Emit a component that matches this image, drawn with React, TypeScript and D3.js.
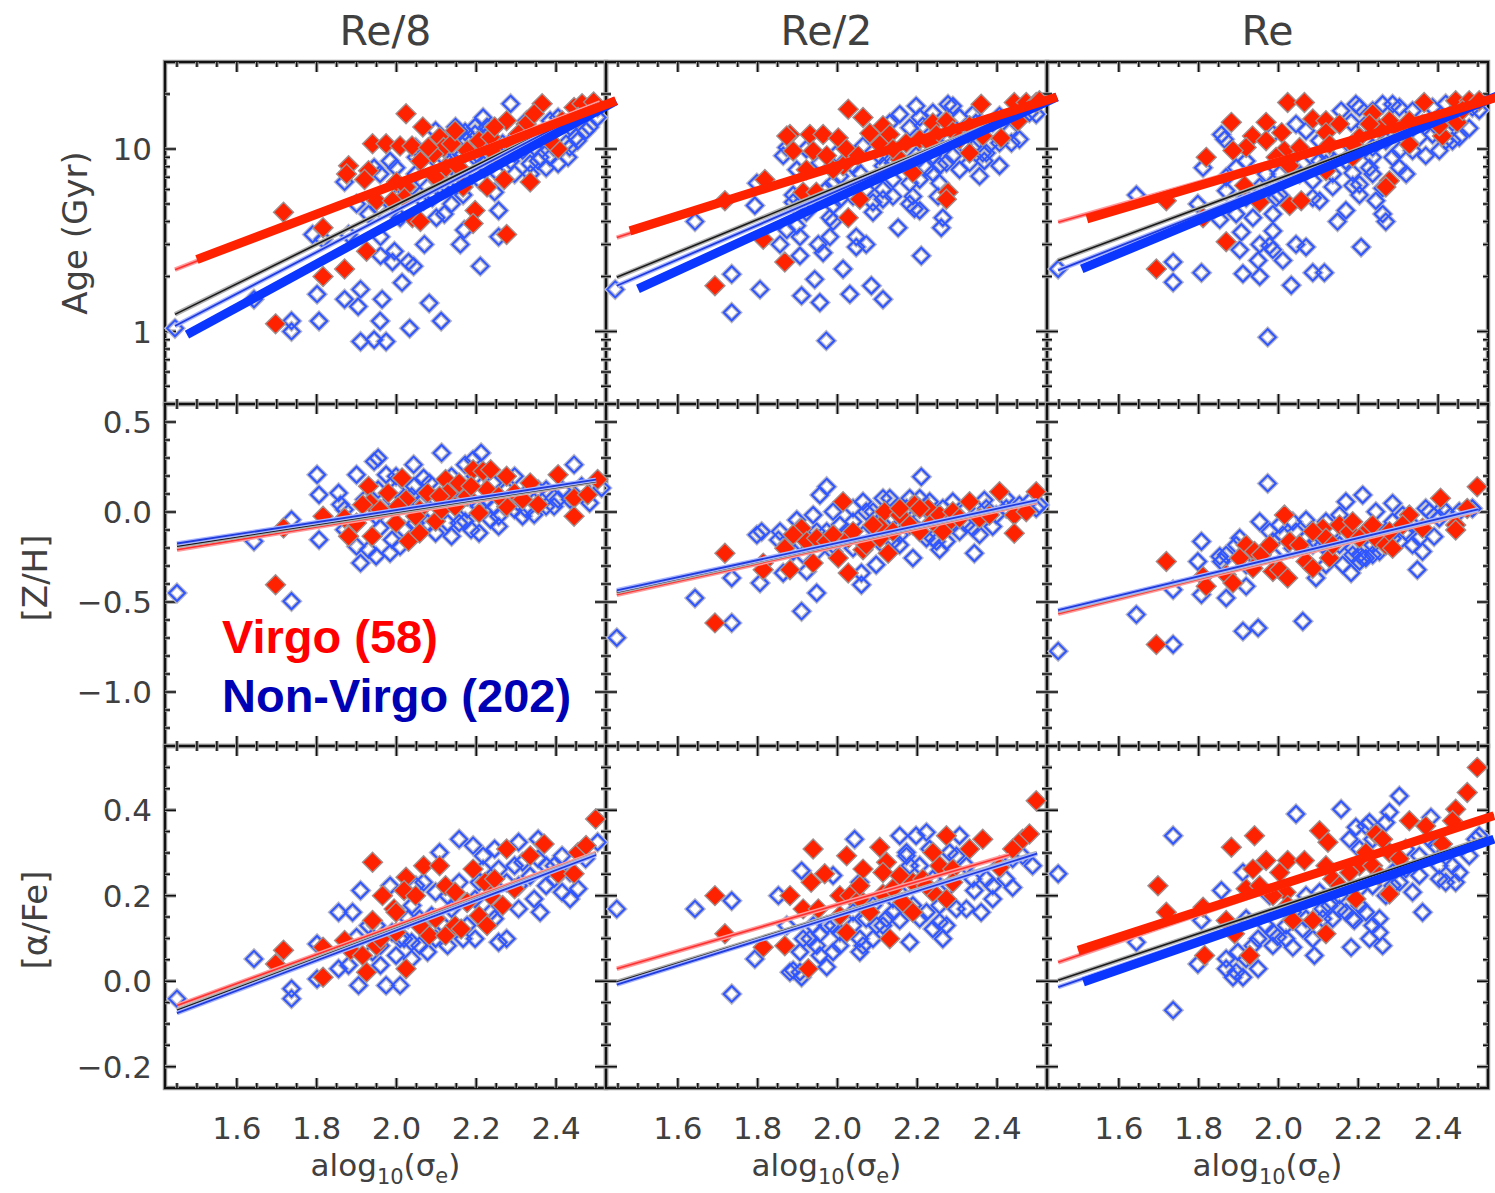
import React from 'react';
import * as d3 from 'd3';

type P = [number, number];
type Fit = [number, number, number, number];

// ---------- column / row labels ----------
const columnTitles = ['Re/8', 'Re/2', 'Re'];
const rowTitles = ['Age (Gyr)', '[Z/H]', '[α/Fe]'];
const xTickValues = [1.6, 1.8, 2.0, 2.2, 2.4];
const xMinorTicks = [1.45, 1.5, 1.55, 1.65, 1.7, 1.75, 1.85, 1.9, 1.95, 2.05, 2.1, 2.15, 2.25, 2.3, 2.35, 2.45, 2.5];
const ageMajor = [1, 10];
const ageMinor = [0.5, 0.6, 0.7, 0.8, 0.9, 2, 3, 4, 5, 6, 7, 8, 9, 20];
const zhMajor = [-1.0, -0.5, 0.0, 0.5];
const zhMinor = [-1.2, -1.1, -0.9, -0.8, -0.7, -0.6, -0.4, -0.3, -0.2, -0.1, 0.1, 0.2, 0.3, 0.4];
const afMajor = [-0.2, 0.0, 0.2, 0.4];
const afMinor = [-0.15, -0.1, -0.05, 0.05, 0.1, 0.15, 0.25, 0.3, 0.35, 0.45, 0.5];
const legendLabels = ['Virgo (58)', 'Non-Virgo (202)'];

// ---------- Age ----------
const virgoAgeRe8: P[] = [[2.024,15.6],[2.066,13.2],[1.94,10.7],[1.974,10.7],[2.009,10.4],[2.039,10.4],[2.108,11.6],[2.118,10.2],[2.093,9.4],[1.88,8.1],[1.875,7.3],[1.93,7.6],[1.92,6.8],[1.95,5.2],[2.0,6.6],[2.024,6.2],[2.02,5.4],[2.04,4.2],[2.06,4.0],[2.124,7.9],[2.138,10.7],[2.167,6.2],[2.197,4.6],[2.192,3.9],[2.207,11.1],[2.236,11.6],[2.276,14.3],[2.27,6.8],[2.276,3.4],[2.335,6.6],[2.365,17.7],[2.325,13.7],[2.405,10.0],[2.445,16.9],[2.465,17.7],[2.494,18.1],[2.455,14.9],[2.296,10.2],[2.246,9.4],[2.177,9.8],[1.717,4.5],[1.816,3.7],[1.925,2.75],[1.816,2.0],[1.87,2.2],[1.697,1.1],[2.098,7.0],[2.157,7.9],[2.06,8.6],[2.227,6.2],[2.306,12.1],[2.385,11.1],[2.415,14.3],[2.147,12.6],[1.99,5.2],[2.08,10.2],[2.246,13.2],[2.345,15.6]];
const nonVirgoAgeRe8: P[] = [[1.445,1.04],[1.737,1.14],[1.737,1.0],[1.806,1.14],[1.801,1.6],[1.87,1.5],[1.904,1.37],[1.91,1.7],[1.964,1.5],[1.959,1.14],[1.91,0.88],[1.944,0.9],[1.974,0.88],[2.033,1.04],[2.082,1.43],[2.112,1.14],[2.014,1.85],[2.043,2.28],[1.99,2.4],[1.995,2.75],[1.96,2.6],[2.07,3.0],[2.1,4.2],[2.12,4.4],[2.16,3.0],[2.21,2.28],[2.256,3.3],[2.256,4.6],[2.246,5.8],[2.17,3.6],[2.21,6.7],[2.186,8.3],[2.216,8.3],[2.256,9.4],[2.286,17.7],[2.276,9.8],[2.335,8.3],[2.355,8.6],[2.385,9.0],[2.395,10.2],[2.434,10.2],[2.45,11.6],[2.43,9.0],[2.504,14.9],[2.385,14.3],[2.217,14.9],[2.197,13.2],[2.157,12.6],[2.128,11.1],[2.138,8.6],[2.078,7.9],[2.048,7.3],[1.984,8.6],[1.944,7.9],[1.87,6.6],[1.9,5.0],[1.955,4.8],[2.0,5.4],[1.96,3.3],[1.79,3.4],[1.816,3.2],[2.09,5.4],[2.11,6.2],[2.167,5.6],[2.03,2.4],[1.643,1.5],[2.29,11.1],[2.325,11.1],[2.365,11.1],[2.475,12.6],[2.504,16.9],[2.048,10.2],[2.098,12.6],[2.177,11.1],
  [2.148,13.2],[2.172,12.4],[2.197,12.1],[2.222,11.6],[2.237,10.2],[2.266,10.7],[2.296,9.4],[2.316,9.8],[2.346,10.2],[2.36,9.0],[2.375,7.9],[2.405,8.3],[2.425,10.7],[2.454,11.1],[2.484,13.2],[2.435,13.2],[2.405,14.9],[2.326,14.3],[2.227,13.2],[2.167,9.4],[2.197,9.0],[2.227,7.9],[2.256,7.3],[2.296,7.3],[2.177,6.7],[2.128,6.2],[2.078,6.2],[2.039,6.2],[1.999,7.9],[1.959,7.3],[2.049,9.0],[2.118,9.0],[2.157,7.3],[2.286,8.6],[2.336,7.3],[2.068,5.2],[2.138,5.0],[1.93,4.4],[2.009,4.2],[1.88,3.4]];
const virgoAgeRe2: P[] = [[2.027,16.5],[2.064,14.9],[2.36,17.6],[2.443,18],[2.473,18],[2.498,18],[2.452,14.2],[1.881,12.0],[1.931,12.0],[1.964,12.0],[2.002,11.5],[1.889,9.75],[1.939,9.75],[2.022,10.0],[2.081,12.2],[2.114,13.4],[2.131,12.0],[2.106,10.6],[2.239,13.9],[2.273,14.2],[2.248,12.0],[2.289,12.5],[2.331,13.4],[2.331,9.5],[2.41,11.5],[2.206,11.3],[2.189,7.4],[2.156,8.8],[2.014,8.1],[1.989,7.7],[1.922,7.7],[1.818,6.8],[1.914,5.8],[1.947,5.8],[1.718,5.2],[2.056,5.3],[2.027,4.2],[2.277,5.8],[2.273,5.3],[1.814,3.2],[1.868,2.4],[1.693,1.78],[2.139,10.0],[2.231,10.8],[2.506,18.4],[2.172,10.8],[1.873,11.8],[2.364,11.8],[1.973,9.2],[2.052,9.2],[2.306,11.3]];
const nonVirgoAgeRe2: P[] = [[1.443,1.7],[1.735,2.06],[1.735,1.27],[1.806,1.7],[1.91,1.57],[1.956,1.44],[1.943,1.93],[2.014,2.2],[2.031,1.6],[2.085,1.78],[2.114,1.5],[1.972,0.89],[2.21,2.6],[2.152,3.7],[2.26,3.7],[2.264,4.2],[2.181,5.0],[2.193,4.7],[2.189,5.5],[2.252,5.5],[1.643,4.0],[1.793,4.9],[1.856,3.0],[1.906,3.3],[1.906,2.6],[1.952,3.0],[1.964,2.7],[1.981,3.3],[1.981,4.2],[2.047,3.3],[2.047,2.9],[2.072,3.0],[1.898,3.8],[1.889,5.1],[1.989,4.9],[2.089,5.1],[2.114,5.3],[2.139,6.8],[2.056,7.4],[2.114,8.1],[2.206,6.8],[2.222,7.9],[2.256,8.1],[2.273,8.4],[2.368,8.6],[2.373,9.5],[2.436,10.8],[2.431,12.5],[2.498,15.5],[2.156,15.5],[2.197,17.2],[2.277,17.6],[2.289,17.2],[2.206,14.9],[2.214,13.4],[2.181,13.1],[2.381,10.6],[2.364,9.5],[2.314,10.6],[2.256,10.2],[1.997,9.4],[1.873,10.2],[1.864,9.2],[1.898,7.7],[1.798,6.5],[1.889,5.6],[2.006,7.1],[2.139,8.4],[2.239,9.2],[2.289,9.2],[2.347,13.9],[2.389,13.9],[2.131,13.9],[2.064,10.4],[1.972,6.0],[2.006,5.3],[2.206,4.6],
  [2.239,15.8],[2.306,14.9],[2.339,15.5],[2.406,15.2],[2.456,14.6],[2.481,15.8],[2.331,11.8],[2.356,11.3],[2.406,10.8],[2.456,11.3],[2.281,11.3],[2.223,10.0],[2.197,9.2],[2.181,8.1],[2.239,7.4],[2.306,7.7],[2.331,8.4],[2.406,8.1],[2.131,10.4],[2.106,9.2],[2.039,8.1],[1.989,6.5],[1.956,8.4],[1.922,10.0],[2.072,6.0],[2.114,6.0],[2.139,5.5],[2.039,5.5],[2.089,4.5],[1.989,4.0],[1.922,4.5],[1.873,3.6],[2.181,6.5],[2.256,6.5],[2.356,7.1]];
const virgoAgeRe: P[] = [[2.023,18],[2.065,18],[2.365,18],[2.444,18.4],[2.478,18.4],[2.503,18.4],[1.882,14.0],[1.969,14.0],[1.935,11.8],[2.008,12.3],[1.919,10.2],[1.886,9.8],[2.086,14.6],[2.119,14.3],[2.119,12.3],[2.128,10.6],[2.015,9.8],[2.028,8.1],[1.819,9.0],[2.236,15.6],[2.278,14.3],[2.253,12.9],[2.328,14.3],[2.328,10.6],[2.411,11.8],[2.448,14.0],[2.203,11.6],[2.186,9.0],[2.119,7.6],[2.278,6.7],[2.269,6.2],[1.915,6.3],[1.953,5.1],[2.028,4.9],[2.057,5.2],[1.719,5.2],[1.811,4.2],[1.869,3.1],[1.694,2.2],[2.153,13.7],[2.228,13.7],[2.303,12.6],[2.186,10.6],[2.053,10.2],[1.994,9.0],[2.461,16.3],[1.969,11.1],[2.403,13.4]];
const nonVirgoAgeRe: P[] = [[1.448,2.2],[1.644,5.6],[1.736,2.4],[1.736,1.86],[1.807,2.1],[1.798,5.0],[1.853,4.1],[1.907,3.5],[1.903,2.8],[1.911,2.07],[1.953,2.0],[1.949,2.45],[1.953,3.0],[1.978,2.95],[1.986,3.55],[1.986,4.4],[2.011,2.45],[2.032,1.79],[2.044,3.0],[2.069,2.9],[2.086,2.1],[2.115,2.1],[1.973,0.93],[2.148,4.0],[2.169,4.6],[2.207,2.9],[2.261,4.4],[2.269,4.0],[2.203,5.6],[2.186,6.3],[2.186,7.4],[2.261,6.1],[2.369,9.2],[2.436,11.1],[2.503,16.3],[2.261,17.6],[2.286,17.6],[2.194,17.6],[2.157,16.2],[2.182,14.0],[2.215,13.4],[2.303,9.8],[2.353,11.6],[2.386,12.0],[2.419,11.1],[2.086,6.7],[2.119,8.3],[2.061,8.3],[1.994,5.4],[1.936,4.2],[1.894,4.4],[1.869,5.9],[1.865,11.3],[1.857,12.0],[1.811,7.9],[1.894,7.9],[1.969,7.3],[2.044,13.7],[2.069,12.6],[2.228,7.9],[2.236,7.3],[2.303,7.9],[2.436,14.0],[2.32,7.3],[2.136,6.2],[2.103,5.2],[2.003,5.6],[2.103,11.1],
  [2.203,16.9],[2.236,16.2],[2.303,16.9],[2.336,16.2],[2.386,16.9],[2.419,17.7],[2.486,16.9],[2.361,13.7],[2.394,13.4],[2.319,12.1],[2.269,11.1],[2.236,10.2],[2.203,9.8],[2.153,9.8],[2.119,9.4],[2.169,8.6],[2.236,9.0],[2.286,9.0],[2.336,9.8],[2.403,9.8],[2.453,11.6],[2.478,13.0],[2.103,8.6],[2.053,7.3],[2.003,7.3],[1.953,6.2],[1.919,5.4],[2.086,5.4],[2.136,7.3],[2.203,6.4],[2.244,5.2],[1.986,12.1],[1.919,8.6],[1.869,7.0],[1.986,2.8]];

// ---------- [Z/H] ----------
const virgoZhRe8: P[] = [[1.697,-0.404],[1.717,-0.089],[1.816,-0.024],[1.87,-0.033],[1.88,-0.135],[1.93,0.143],[1.934,0.05],[1.939,-0.135],[1.915,0.04],[2.014,0.189],[2.024,0.069],[2.03,-0.163],[2.058,-0.117],[2.004,0.031],[1.999,-0.061],[2.098,-0.052],[2.113,0.013],[2.123,0.18],[2.128,0.106],[2.157,0.161],[2.192,0.235],[2.217,0.226],[2.236,0.235],[2.207,-0.006],[2.227,0.124],[2.276,0.198],[2.276,0.031],[2.296,0.106],[2.335,0.161],[2.355,0.041],[2.405,0.207],[2.445,0.078],[2.445,-0.024],[2.479,0.096],[2.504,0.18],[2.078,0.106],[2.108,0.087],[2.058,0.013],[2.177,0.087],[2.256,0.087],[1.959,0.013],[1.9,-0.061],[2.048,-0.024],[2.147,0.031],[2.316,0.069],[1.979,0.106],[2.187,0.143]];
const nonVirgoZhRe8: P[] = [[1.45,-0.45],[1.737,-0.496],[1.643,-0.163],[1.737,-0.043],[1.801,0.207],[1.806,0.096],[1.806,-0.154],[1.855,0.106],[1.86,0.041],[1.9,0.207],[1.91,-0.283],[1.944,0.281],[1.954,0.3],[1.949,-0.246],[1.984,-0.228],[1.974,0.207],[2.043,0.263],[2.068,0.189],[2.113,0.328],[2.172,0.263],[2.212,0.328],[2.192,0.291],[2.138,-0.135],[2.187,-0.098],[2.256,-0.08],[2.246,0.031],[2.306,0.05],[2.345,-0.015],[2.405,0.069],[2.445,0.263],[2.514,0.133],[2.375,0.124],[1.999,0.124],[2.019,0.05],[1.959,-0.089],[1.989,-0.154],[2.078,-0.061],[2.098,0.069],[2.147,0.124],[2.227,0.069],[2.236,-0.043],[1.87,-0.098],[2.038,0.087],[2.177,0.013],[2.316,-0.024],[2.395,0.031],[1.93,-0.209],[1.999,0.198],[2.296,0.198],[2.197,0.198],
  [1.92,0.069],[1.954,0.124],[1.989,0.069],[2.044,0.143],[2.058,0.05],[2.083,0.161],[2.138,0.198],[2.157,0.069],[2.172,-0.052],[2.207,0.031],[2.242,0.161],[2.276,0.124],[2.296,0.013],[2.326,0.106],[2.355,0.124],[2.375,0.031],[2.415,0.124],[2.435,0.069],[2.464,0.143],[2.484,0.05],[2.019,-0.098],[2.048,-0.061],[2.098,-0.117],[2.128,-0.061],[1.949,-0.024],[1.9,-0.191],[1.87,0.013],[2.009,-0.191],[2.207,-0.117],[2.256,-0.024],[2.326,0.013],[2.157,-0.061]];
const virgoZhRe2: P[] = [[1.718,-0.229],[1.693,-0.616],[1.814,-0.284],[1.814,-0.321],[1.868,-0.201],[1.881,-0.321],[1.91,-0.09],[1.923,-0.164],[1.948,-0.146],[1.939,-0.284],[1.973,-0.164],[2.002,-0.256],[2.014,0.057],[2.027,-0.146],[2.027,-0.339],[2.064,-0.21],[2.072,-0.183],[2.106,-0.146],[2.118,0.002],[2.106,-0.081],[2.127,-0.229],[2.156,-0.017],[2.181,-0.072],[2.193,0.039],[2.206,-0.109],[2.227,0.02],[2.239,-0.054],[2.256,-0.017],[2.273,-0.072],[2.289,0.002],[2.306,-0.035],[2.331,0.057],[2.356,-0.035],[2.406,0.113],[2.443,-0.017],[2.443,-0.118],[2.473,0.002],[2.498,0.113],[1.889,-0.127],[1.989,-0.127],[2.039,-0.109],[2.139,-0.109],[2.156,0.02],[2.264,-0.109],[2.381,-0.017],[2.206,0.02],[2.089,-0.072]];
const nonVirgoZhRe2: P[] = [[1.447,-0.699],[1.643,-0.478],[1.735,-0.367],[1.735,-0.616],[1.806,-0.395],[1.798,-0.127],[1.81,-0.109],[1.856,-0.109],[1.852,-0.155],[1.91,-0.552],[1.948,-0.45],[1.939,-0.017],[1.956,0.094],[1.973,0.14],[1.898,-0.044],[1.889,-0.22],[1.864,-0.339],[1.923,-0.33],[1.989,0.002],[2.006,-0.072],[2.039,-0.054],[2.064,0.057],[2.06,-0.339],[2.06,-0.404],[2.097,-0.293],[2.114,0.076],[2.072,0.002],[2.064,-0.127],[2.181,0.076],[2.189,-0.256],[2.21,0.196],[2.206,0.076],[2.248,-0.164],[2.256,-0.21],[2.289,0.057],[2.306,-0.109],[2.343,-0.229],[2.356,-0.127],[2.368,0.066],[2.389,-0.081],[2.422,0.076],[2.506,0.039],[2.139,-0.164],[2.156,-0.183],[2.223,-0.146],[2.114,-0.183],[2.323,-0.072],[2.156,-0.072],[1.989,-0.183],[1.948,-0.22],[2.039,-0.201],
  [1.873,-0.183],[1.914,-0.238],[1.948,-0.109],[1.989,-0.22],[2.023,-0.109],[2.039,0.02],[2.089,0.002],[2.098,-0.072],[2.131,0.076],[2.156,-0.127],[2.173,0.02],[2.206,-0.035],[2.231,0.057],[2.239,-0.146],[2.264,0.02],[2.273,-0.164],[2.289,-0.072],[2.323,0.02],[2.339,-0.09],[2.373,0.02],[2.398,-0.017],[2.423,0.02],[2.456,0.039],[2.481,0.057],[2.498,0.02],[2.189,-0.072],[2.139,-0.035],[2.256,-0.072],[1.973,-0.109],[1.906,-0.09]];
const virgoZhRe: P[] = [[1.719,-0.275],[1.694,-0.736],[1.811,-0.358],[1.819,-0.413],[1.869,-0.349],[1.886,-0.395],[1.919,-0.183],[1.94,-0.22],[1.957,-0.238],[1.936,-0.312],[1.986,-0.33],[2.003,-0.321],[2.015,-0.017],[2.028,-0.164],[2.023,-0.367],[2.069,-0.275],[2.086,-0.312],[2.111,-0.09],[2.128,-0.256],[2.119,-0.146],[2.153,-0.072],[2.178,-0.109],[2.203,-0.146],[2.228,-0.09],[2.244,-0.146],[2.269,-0.183],[2.278,-0.109],[2.286,-0.201],[2.328,-0.017],[2.361,-0.09],[2.406,0.076],[2.444,-0.072],[2.444,-0.1],[2.473,0.02],[2.498,0.14],[1.903,-0.256],[1.978,-0.183],[2.053,-0.183],[2.136,-0.183],[2.186,-0.054],[2.236,-0.072],[2.311,-0.072],[2.086,-0.109]];
const nonVirgoZhRe: P[] = [[1.448,-0.773],[1.644,-0.57],[1.736,-0.432],[1.736,-0.736],[1.807,-0.164],[1.798,-0.275],[1.807,-0.459],[1.853,-0.247],[1.857,-0.275],[1.869,-0.478],[1.894,-0.183],[1.919,-0.413],[1.911,-0.662],[1.949,-0.644],[1.953,-0.054],[1.973,0.159],[2.003,-0.072],[2.069,-0.044],[2.061,-0.607],[2.044,-0.109],[2.094,-0.367],[2.153,-0.017],[2.161,-0.293],[2.182,-0.339],[2.169,0.057],[2.211,0.094],[2.186,-0.201],[2.211,-0.256],[2.236,-0.238],[2.244,0.002],[2.286,0.048],[2.303,-0.164],[2.336,-0.183],[2.361,-0.22],[2.348,-0.321],[2.39,-0.137],[2.378,0.002],[2.411,0.02],[2.486,0.02],[2.286,-0.054],[2.111,-0.183],[2.203,-0.238],[2.086,-0.183],[1.986,-0.164],[2.319,-0.109],[2.419,0.002],
  [1.903,-0.146],[1.919,-0.293],[1.978,-0.109],[1.986,-0.238],[2.011,-0.127],[2.036,-0.054],[2.069,-0.146],[2.094,-0.164],[2.119,-0.054],[2.136,-0.109],[2.153,-0.183],[2.169,-0.09],[2.186,-0.238],[2.203,-0.275],[2.219,-0.109],[2.236,-0.183],[2.253,-0.22],[2.269,-0.109],[2.286,-0.146],[2.311,-0.017],[2.336,-0.072],[2.353,-0.146],[2.369,0.02],[2.403,-0.035],[2.453,0.002],[2.486,0.02],[2.119,-0.293],[2.036,-0.201],[1.869,-0.238],[2.219,-0.256]];

// ---------- [alpha/Fe] ----------
const virgoAfRe8: P[] = [[1.697,0.04],[1.717,0.072],[1.816,0.079],[1.816,0.009],[1.87,0.095],[1.885,0.072],[1.915,0.06],[1.925,0.021],[1.94,0.142],[1.94,0.278],[1.95,0.083],[1.965,0.2],[1.994,0.169],[1.999,0.114],[2.024,0.243],[2.024,0.029],[2.019,0.212],[2.048,0.2],[2.068,0.27],[2.082,0.107],[2.108,0.27],[2.123,0.223],[2.123,0.107],[2.147,0.13],[2.162,0.122],[2.192,0.262],[2.207,0.153],[2.222,0.231],[2.236,0.2],[2.246,0.239],[2.266,0.177],[2.276,0.309],[2.335,0.293],[2.37,0.321],[2.405,0.251],[2.445,0.251],[2.455,0.301],[2.475,0.317],[2.499,0.379],[2.098,0.146],[2.177,0.184],[2.058,0.13],[1.96,0.099],[2.147,0.208],[2.296,0.216],[1.999,0.161],[2.227,0.13]];
const nonVirgoAfRe8: P[] = [[1.45,-0.041],[1.737,-0.018],[1.737,-0.041],[1.643,0.052],[1.801,0.087],[1.801,0.005],[1.855,0.161],[1.89,0.161],[1.855,0.029],[1.88,0.037],[1.91,0.212],[1.9,0.103],[1.905,-0.01],[1.974,-0.01],[2.009,-0.01],[1.96,0.037],[1.984,0.223],[2.009,0.099],[2.038,0.091],[2.078,0.068],[2.108,0.301],[2.157,0.332],[2.192,0.317],[2.246,0.309],[2.306,0.325],[2.355,0.332],[2.36,0.161],[2.306,0.169],[2.246,0.146],[2.256,0.091],[2.276,0.099],[2.435,0.192],[2.415,0.208],[2.504,0.325],[2.098,0.208],[2.128,0.2],[2.167,0.099],[2.197,0.099],[2.058,0.146],[2.029,0.146],[2.296,0.27],[2.395,0.27],[2.217,0.262],[2.345,0.192],[2.375,0.223],[2.068,0.231],[1.95,0.13],[2.038,0.052],[2.128,0.083],[2.207,0.231],
  [1.93,0.13],[1.96,0.083],[1.989,0.114],[1.999,0.06],[2.039,0.177],[2.058,0.083],[2.088,0.153],[2.098,0.099],[2.118,0.13],[2.138,0.169],[2.157,0.231],[2.177,0.13],[2.197,0.192],[2.217,0.293],[2.236,0.161],[2.256,0.262],[2.276,0.231],[2.306,0.223],[2.316,0.278],[2.335,0.246],[2.355,0.286],[2.375,0.27],[2.395,0.239],[2.415,0.293],[2.435,0.254],[2.455,0.216],[2.474,0.286],[2.049,0.223],[2.019,0.099],[1.94,0.068]];
const virgoAfRe2: P[] = [[2.498,0.422],[1.693,0.2],[1.718,0.111],[1.814,0.079],[1.868,0.083],[1.881,0.2],[1.914,0.169],[1.927,0.029],[1.939,0.309],[1.934,0.231],[1.952,0.169],[1.968,0.251],[2.023,0.293],[2.006,0.2],[2.023,0.114],[2.031,0.2],[2.056,0.192],[2.064,0.262],[2.081,0.161],[2.106,0.313],[2.123,0.278],[2.114,0.254],[2.131,0.099],[2.114,0.204],[2.139,0.216],[2.164,0.184],[2.189,0.161],[2.189,0.231],[2.214,0.239],[2.239,0.301],[2.256,0.27],[2.273,0.34],[2.273,0.192],[2.289,0.262],[2.331,0.309],[2.364,0.332],[2.406,0.266],[2.439,0.309],[2.464,0.332],[2.481,0.344],[2.239,0.208],[2.289,0.231],[2.156,0.247],[2.006,0.153],[2.056,0.223],[2.223,0.223]];
const nonVirgoAfRe2: P[] = [[1.447,0.169],[1.643,0.169],[1.735,0.188],[1.735,-0.03],[1.793,0.052],[1.852,0.2],[1.889,0.025],[1.91,0.009],[1.91,0.258],[1.956,0.111],[1.973,0.033],[1.989,0.247],[2.043,0.332],[2.056,0.231],[2.089,0.099],[2.064,0.083],[2.156,0.34],[2.197,0.34],[2.223,0.348],[2.306,0.34],[2.181,0.091],[2.264,0.099],[2.298,0.169],[2.323,0.169],[2.36,0.161],[2.343,0.212],[2.389,0.192],[2.389,0.223],[2.422,0.239],[2.439,0.219],[2.489,0.27],[2.173,0.293],[2.181,0.27],[2.231,0.309],[2.256,0.138],[2.239,0.122],[2.006,0.114],[1.948,0.083],[1.914,0.099],[1.989,0.068],[2.039,0.13],[2.139,0.161],[2.114,0.13],[2.156,0.142],[2.206,0.146],[2.281,0.301],[2.072,0.146],[1.939,0.13],[2.056,0.068],
  [1.873,0.13],[1.906,0.068],[1.931,0.099],[1.956,0.06],[1.989,0.13],[2.006,0.083],[2.039,0.161],[2.056,0.099],[2.089,0.177],[2.098,0.13],[2.123,0.146],[2.139,0.192],[2.156,0.208],[2.173,0.301],[2.189,0.177],[2.206,0.27],[2.223,0.161],[2.239,0.239],[2.256,0.177],[2.273,0.13],[2.281,0.223],[2.298,0.293],[2.323,0.27],[2.339,0.239],[2.373,0.239],[2.406,0.27],[2.439,0.286],[2.464,0.293],[1.973,0.13],[1.906,0.021],[1.881,0.021]];
const virgoAfRe: P[] = [[2.498,0.5],[2.473,0.441],[2.444,0.402],[2.436,0.375],[1.698,0.223],[1.719,0.161],[1.882,0.313],[1.94,0.34],[1.811,0.173],[1.815,0.06],[1.869,0.142],[1.89,0.111],[1.928,0.06],[1.936,0.262],[1.919,0.216],[1.969,0.282],[1.953,0.223],[2.003,0.254],[2.023,0.282],[2.019,0.208],[2.023,0.177],[2.036,0.142],[2.065,0.282],[2.086,0.142],[2.103,0.352],[2.124,0.325],[2.119,0.111],[2.119,0.27],[2.136,0.239],[2.153,0.223],[2.194,0.192],[2.203,0.27],[2.236,0.27],[2.244,0.344],[2.261,0.332],[2.278,0.204],[2.278,0.301],[2.303,0.286],[2.328,0.375],[2.369,0.363],[2.411,0.321],[2.178,0.254],[2.219,0.301],[2.253,0.247],[1.986,0.2]];
const nonVirgoAfRe: P[] = [[1.448,0.251],[1.736,0.34],[1.736,-0.068],[1.644,0.091],[1.798,0.04],[1.807,0.142],[1.857,0.212],[1.869,0.052],[1.886,0.009],[1.911,0.009],[1.898,0.068],[1.949,0.029],[1.949,0.099],[1.911,0.254],[1.978,0.2],[1.998,0.103],[2.036,0.079],[2.044,0.391],[2.061,0.122],[2.09,0.06],[2.069,0.2],[2.111,0.169],[2.157,0.402],[2.182,0.079],[2.178,0.332],[2.194,0.36],[2.228,0.371],[2.228,0.099],[2.253,0.146],[2.261,0.083],[2.19,0.142],[2.278,0.395],[2.303,0.433],[2.336,0.208],[2.361,0.161],[2.353,0.247],[2.403,0.239],[2.436,0.27],[2.444,0.231],[2.494,0.332],[2.382,0.383],[2.153,0.169],[2.136,0.146],[2.203,0.177],[1.986,0.114],[2.019,0.099],[1.919,0.146],[2.319,0.262],[2.236,0.223],[2.286,0.223],[2.103,0.208],[2.203,0.309],[2.394,0.317],
  [1.869,0.029],[1.894,0.021],[1.919,0.052],[1.936,0.083],[1.969,0.13],[1.986,0.083],[2.019,0.13],[2.036,0.161],[2.069,0.146],[2.086,0.099],[2.111,0.146],[2.128,0.177],[2.153,0.2],[2.169,0.161],[2.186,0.146],[2.203,0.216],[2.219,0.161],[2.236,0.13],[2.253,0.114],[2.269,0.2],[2.286,0.254],[2.303,0.231],[2.319,0.309],[2.353,0.293],[2.378,0.332],[2.403,0.27],[2.419,0.231],[2.453,0.254],[2.478,0.293],[2.503,0.34],[2.219,0.363],[2.236,0.332],[2.269,0.371]];

// ---------- fit lines [x0, y0, x1, y1] ----------
const fitsThinVirgo: Fit[][] = [
  [[1.445,2.18,2.51,18.0],[1.447,3.27,2.51,18.4],[1.448,3.97,2.52,18.4]],
  [[1.45,-0.21,2.5,0.17],[1.447,-0.46,2.5,0.055],[1.448,-0.565,2.5,0.008]],
  [[1.45,-0.057,2.5,0.3],[1.447,0.029,2.43,0.295],[1.448,0.044,2.54,0.39]],
];
const fitsThinAll: Fit[][] = [
  [[1.445,1.24,2.51,17.6],[1.447,1.98,2.51,17.8],[1.448,2.45,2.52,18.2]],
  [[1.45,-0.19,2.5,0.17],[1.447,-0.445,2.5,0.062],[1.448,-0.55,2.5,0.012]],
  [[1.45,-0.068,2.5,0.297],[1.447,-0.002,2.5,0.3],[1.448,0.002,2.52,0.335]],
];
const fitsThinNonVirgo: Fit[][] = [
  [[1.445,1.07,2.51,17.6],[1.447,1.78,2.51,17.8],[1.448,2.16,2.52,18.2]],
  [[1.45,-0.175,2.5,0.18],[1.447,-0.435,2.5,0.066],[1.448,-0.545,2.5,0.015]],
  [[1.45,-0.075,2.5,0.295],[1.447,-0.008,2.5,0.298],[1.448,-0.014,2.52,0.33]],
];
const fitsThickVirgo: (Fit | null)[][] = [
  [[1.5,2.48,2.55,18.4],[1.48,3.56,2.55,19.3],[1.52,4.14,2.55,19.3]],
  [null, null, null],
  [null, null, [1.498,0.072,2.54,0.387]],
];
const fitsThickNonVirgo: (Fit | null)[][] = [
  [[1.475,0.96,2.55,18.4],[1.5,1.71,2.55,19.3],[1.507,2.2,2.55,19.6]],
  [null, null, null],
  [null, null, [1.511,-0.002,2.54,0.332]],
];

const virgoData: P[][][] = [
  [virgoAgeRe8, virgoAgeRe2, virgoAgeRe],
  [virgoZhRe8, virgoZhRe2, virgoZhRe],
  [virgoAfRe8, virgoAfRe2, virgoAfRe],
];
const nonVirgoData: P[][][] = [
  [nonVirgoAgeRe8, nonVirgoAgeRe2, nonVirgoAgeRe],
  [nonVirgoZhRe8, nonVirgoZhRe2, nonVirgoZhRe],
  [nonVirgoAfRe8, nonVirgoAfRe2, nonVirgoAfRe],
];

// ---------- layout ----------
const W = 1495, H = 1193;
const colLeft = [165, 606, 1047];
const PW = 441;
const rowTop = [62, 404, 746];
const PH = 342;
const AX_FONT = "'DejaVu Sans', Verdana, sans-serif";
const TXT = '#404040';

function diamond(cx: number, cy: number, r: number) {
  return `M${cx},${cy - r}L${cx + r},${cy}L${cx},${cy + r}L${cx - r},${cy}Z`;
}

function fmtTick(v: number) {
  const s = Math.abs(v).toFixed(1);
  return v < -1e-9 ? '\u2212' + s : s;
}

export default function App() {
  const xScales = colLeft.map((l) => d3.scaleLinear().domain([1.42, 2.525]).range([l, l + PW]));
  const yScales: any[] = [
    d3.scaleLog().domain([0.4, 30]).range([rowTop[0] + PH, rowTop[0]]),
    d3.scaleLinear().domain([-1.3, 0.6]).range([rowTop[1] + PH, rowTop[1]]),
    d3.scaleLinear().domain([-0.25, 0.55]).range([rowTop[2] + PH, rowTop[2]]),
  ];
  const yMajor = [ageMajor, zhMajor, afMajor];
  const yMinor = [ageMinor, zhMinor, afMinor];
  const yLabelFmt = [(v: number) => String(v), fmtTick, fmtTick];

  const frames: React.ReactNode[] = [];
  const ticks: React.ReactNode[] = [];
  const points: React.ReactNode[] = [];
  const lines: React.ReactNode[] = [];

  for (let r = 0; r < 3; r++) {
    for (let c = 0; c < 3; c++) {
      const xs = xScales[c];
      const ys = yScales[r];
      const L = colLeft[c], R = L + PW, T = rowTop[r], B = T + PH;
      const k = `${r}-${c}`;
      frames.push(
        <rect key={`fh${k}`} x={L} y={T} width={PW} height={PH} fill="none" stroke="#9a9a9a" strokeWidth={4.5} />,
        <rect key={`f${k}`} x={L} y={T} width={PW} height={PH} fill="none" stroke="#111" strokeWidth={2.2} />
      );
      const tk: string[] = [];
      const addX = (v: number, len: number) => {
        const x = xs(v);
        tk.push(`M${x},${B}V${B - len}M${x},${T}V${T + len}`);
      };
      xTickValues.forEach((v) => addX(v, 10));
      xMinorTicks.forEach((v) => addX(v, 5));
      const addY = (v: number, len: number) => {
        const y = ys(v);
        tk.push(`M${L},${y}H${L + len}M${R},${y}H${R - len}`);
      };
      yMajor[r].forEach((v) => addY(v, 11));
      yMinor[r].forEach((v) => addY(v, 5));
      const d = tk.join('');
      ticks.push(
        <path key={`th${k}`} d={d} stroke="#a0a0a0" strokeWidth={3.6} fill="none" />,
        <path key={`t${k}`} d={d} stroke="#111" strokeWidth={1.5} fill="none" />
      );

      nonVirgoData[r][c].forEach(([px, py], i) => {
        const cx = xs(px), cy = ys(py);
        points.push(
          <path key={`nh${k}-${i}`} d={diamond(cx, cy, 8)} fill="none" stroke="#b8b8c8" strokeWidth={4.5} />
        );
      });
      nonVirgoData[r][c].forEach(([px, py], i) => {
        const cx = xs(px), cy = ys(py);
        points.push(
          <path key={`n${k}-${i}`} d={diamond(cx, cy, 8)} fill="none" stroke="#2f55ff" strokeWidth={2} />
        );
      });
      virgoData[r][c].forEach(([px, py], i) => {
        const cx = xs(px), cy = ys(py);
        points.push(
          <path key={`v${k}-${i}`} d={diamond(cx, cy, 10)} fill="#ff2200" stroke="#a09090" strokeWidth={1.4} />
        );
      });

      const seg = (f: Fit) => `M${xs(f[0])},${ys(f[1])}L${xs(f[2])},${ys(f[3])}`;
      lines.push(
        <path key={`lv${k}a`} d={seg(fitsThinVirgo[r][c])} stroke="#ff9c9c" strokeWidth={4.5} fill="none" />,
        <path key={`lv${k}b`} d={seg(fitsThinVirgo[r][c])} stroke="#ff3030" strokeWidth={1.6} fill="none" />,
        <path key={`la${k}a`} d={seg(fitsThinAll[r][c])} stroke="#b0b0b0" strokeWidth={4.5} fill="none" />,
        <path key={`la${k}b`} d={seg(fitsThinAll[r][c])} stroke="#1a1a1a" strokeWidth={1.6} fill="none" />,
        <path key={`ln${k}a`} d={seg(fitsThinNonVirgo[r][c])} stroke="#a9b6ff" strokeWidth={4.5} fill="none" />,
        <path key={`ln${k}b`} d={seg(fitsThinNonVirgo[r][c])} stroke="#1f3bdd" strokeWidth={1.8} fill="none" />
      );
      const tv = fitsThickVirgo[r][c];
      const tn = fitsThickNonVirgo[r][c];
      if (tn) lines.push(<path key={`tn${k}`} d={seg(tn)} stroke="#0a36ff" strokeWidth={9} fill="none" />);
      if (tv) lines.push(<path key={`tv${k}`} d={seg(tv)} stroke="#ff2200" strokeWidth={9} fill="none" />);
    }
  }

  const labels: React.ReactNode[] = [];
  columnTitles.forEach((t, c) => {
    labels.push(
      <text key={`ct${c}`} x={colLeft[c] + PW / 2} y={45} textAnchor="middle" fontFamily={AX_FONT} fontSize={41} fill={TXT}>{t}</text>
    );
  });
  for (let r = 0; r < 3; r++) {
    yMajor[r].forEach((v) => {
      labels.push(
        <text key={`yl${r}-${v}`} x={152} y={yScales[r](v)} dy="0.36em" textAnchor="end" fontFamily={AX_FONT} fontSize={31} fill={TXT}>{yLabelFmt[r](v)}</text>
      );
    });
  }
  for (let c = 0; c < 3; c++) {
    xTickValues.forEach((v) => {
      labels.push(
        <text key={`xl${c}-${v}`} x={xScales[c](v)} y={1139} textAnchor="middle" fontFamily={AX_FONT} fontSize={31} fill={TXT}>{v.toFixed(1)}</text>
      );
    });
    labels.push(
      <text key={`xt${c}`} x={colLeft[c] + PW / 2} y={1176} textAnchor="middle" fontFamily={AX_FONT} fontSize={31} fill={TXT}>
        alog<tspan dy={8} fontSize={21}>10</tspan><tspan dy={-8} fontSize={31}>(σ</tspan><tspan dy={7} fontSize={21}>e</tspan><tspan dy={-7} fontSize={31}>)</tspan>
      </text>
    );
  }
  const rowTitleX = [75, 35, 35];
  rowTitles.forEach((t, r) => {
    const cy = rowTop[r] + PH / 2 + (r === 0 ? 0 : 3);
    labels.push(
      <text key={`rt${r}`} transform={`translate(${rowTitleX[r]},${cy}) rotate(-90)`} textAnchor="middle" dy="0.35em" fontFamily={AX_FONT} fontSize={34} fill={TXT}>{t}</text>
    );
  });
  labels.push(
    <text key="lg1" x={222} y={653} fontFamily="'Liberation Sans', Arial, sans-serif" fontWeight="bold" fontSize={47} fill="#ff0000">{legendLabels[0]}</text>,
    <text key="lg2" x={222} y={712} fontFamily="'Liberation Sans', Arial, sans-serif" fontWeight="bold" fontSize={47} fill="#0000b4">{legendLabels[1]}</text>
  );

  return (
    <svg width={W} height={H} viewBox={`0 0 ${W} ${H}`} style={{ position: 'absolute', left: 0, top: 0, background: '#fff' }}>
      <rect x={0} y={0} width={W} height={H} fill="#fff" />
      {frames}
      {ticks}
      {points}
      {lines}
      {labels}
    </svg>
  );
}
